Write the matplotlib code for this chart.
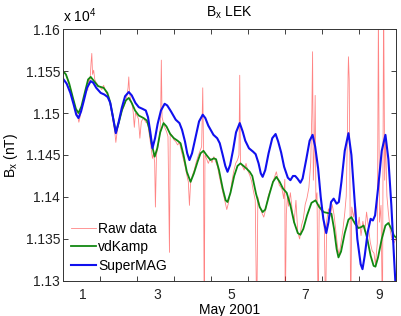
import matplotlib
matplotlib.use("Agg")
import matplotlib.pyplot as plt
from matplotlib.ticker import FixedLocator, FuncFormatter

plt.rcParams['font.family'] = ['Liberation Sans', 'DejaVu Sans']
plt.rcParams['mathtext.fontset'] = 'custom'
plt.rcParams['mathtext.rm'] = 'Liberation Sans'
plt.rcParams['mathtext.it'] = 'Liberation Sans:italic'

# x in days of May 2001 (1.0 = May 1 00:00), y in nT
raw_days = [1.00, 1.05, 1.10, 1.15, 1.20, 1.25, 1.30, 1.35, 1.40, 1.43, 1.47, 1.52, 1.56, 1.60, 1.64, 1.67,
            1.70, 1.73, 1.76, 1.78, 1.80, 1.83, 1.86, 1.90, 1.95, 2.00, 2.05, 2.10, 2.15, 2.20, 2.25, 2.30,
            2.35, 2.40, 2.43, 2.46, 2.50, 2.55, 2.60, 2.65, 2.70, 2.73, 2.76, 2.78, 2.80, 2.83, 2.87, 2.90,
            2.93, 2.96, 3.00, 3.04, 3.08, 3.12, 3.18, 3.24, 3.29, 3.33, 3.38, 3.42, 3.45, 3.48, 3.50, 3.53,
            3.58, 3.62, 3.64, 3.66, 3.68, 3.72, 3.76, 3.80, 3.84, 3.88, 3.90, 3.95, 4.00, 4.05, 4.10, 4.15,
            4.20, 4.25, 4.30, 4.35, 4.39, 4.42, 4.45, 4.50, 4.55, 4.60, 4.65, 4.70, 4.75, 4.78, 4.80, 4.82,
            4.84, 4.88, 4.93, 4.98, 5.03, 5.08, 5.13, 5.18, 5.23, 5.28, 5.33, 5.38, 5.43, 5.47, 5.52, 5.57,
            5.62, 5.67, 5.72, 5.76, 5.78, 5.80, 5.85, 5.90, 5.95, 6.00, 6.05, 6.10, 6.15, 6.20, 6.24, 6.27,
            6.32, 6.38, 6.43, 6.48, 6.55, 6.62, 6.70, 6.77, 6.85, 6.92, 6.97, 7.00, 7.01, 7.04, 7.07, 7.10,
            7.15, 7.20, 7.25, 7.30, 7.35, 7.40, 7.45, 7.50, 7.55, 7.60, 7.65, 7.70, 7.73, 7.75, 7.77, 7.80,
            7.82, 7.84, 7.87, 7.90, 7.93, 7.98, 8.03, 8.07, 8.10, 8.13, 8.18, 8.23, 8.28, 8.33, 8.38, 8.43,
            8.47, 8.52, 8.57, 8.62, 8.66, 8.69, 8.71, 8.72, 8.74, 8.76, 8.78, 8.81, 8.86, 8.91, 8.96, 9.01,
            9.06, 9.11, 9.16, 9.21, 9.26, 9.31, 9.36, 9.41, 9.45, 9.50, 9.53, 9.56, 9.60, 9.64, 9.67, 9.70,
            9.72, 9.76, 9.80, 9.85, 9.90, 9.95, 10.00]
raw_vals = [11551, 11548, 11544, 11536, 11530, 11521, 11513, 11504, 11496, 11489, 11497, 11509, 11516, 11523, 11531, 11527,
            11541, 11537, 11560, 11571, 11546, 11551, 11540, 11536, 11533, 11531, 11528, 11533, 11526, 11522, 11517, 11505,
            11491, 11478, 11465, 11476, 11486, 11496, 11503, 11508, 11514, 11521, 11530, 11543, 11524, 11516, 11510, 11501,
            11483, 11500, 11497, 11493, 11470, 11490, 11494, 11489, 11488, 11476, 11460, 11446, 11452, 11441, 11388, 11451,
            11462, 11476, 11492, 11563, 11495, 11488, 11482, 11478, 11472, 11334, 11476, 11473, 11468, 11466, 11462, 11465,
            11455, 11446, 11437, 11426, 11418, 11390, 11416, 11426, 11432, 11441, 11448, 11454, 11460, 11530, 11458, 11250,
            11450, 11446, 11440, 11446, 11441, 11448, 11442, 11436, 11424, 11414, 11404, 11395, 11385, 11392, 11404, 11419,
            11431, 11440, 11444, 11450, 11545, 11440, 11437, 11432, 11440, 11431, 11426, 11419, 11407, 11396, 11250, 11400,
            11389, 11381, 11376, 11385, 11401, 11410, 11421, 11430, 11414, 11410, 11398, 11421, 11250, 11380, 11401, 11389,
            11405, 11384, 11369, 11396, 11358, 11350, 11366, 11374, 11391, 11399, 11411, 11441, 11500, 11573, 11420, 11462,
            11521, 11396, 11405, 11250, 11391, 11384, 11380, 11360, 11250, 11371, 11386, 11377, 11391, 11379, 11359, 11339,
            11331, 11346, 11361, 11381, 11401, 11470, 11545, 11567, 11540, 11420, 11250, 11388, 11376, 11392, 11360, 11376,
            11354, 11371, 11359, 11382, 11364, 11346, 11336, 11333, 11320, 11345, 11620, 11370, 11390, 11250, 11640, 11420,
            11474, 11401, 11381, 11360, 11349, 11345, 11350]

vdk_days = [1.00, 1.08, 1.17, 1.27, 1.35, 1.42, 1.50, 1.60, 1.68, 1.75, 1.84, 1.95, 2.10, 2.20, 2.27, 2.34,
            2.43, 2.50, 2.60, 2.70, 2.78, 2.86, 2.95, 3.05, 3.18, 3.27, 3.33, 3.40, 3.48, 3.55, 3.63, 3.72,
            3.80, 3.90, 4.00, 4.10, 4.18, 4.26, 4.35, 4.45, 4.54, 4.64, 4.72, 4.80, 4.88, 4.99, 5.08, 5.14,
            5.22, 5.32, 5.40, 5.45, 5.53, 5.63, 5.72, 5.80, 5.88, 5.96, 6.05, 6.12, 6.22, 6.32, 6.40, 6.47,
            6.58, 6.68, 6.77, 6.86, 6.95, 7.05, 7.15, 7.25, 7.35, 7.42, 7.50, 7.60, 7.72, 7.83, 7.93, 8.05,
            8.15, 8.26, 8.33, 8.40, 8.45, 8.52, 8.62, 8.72, 8.80, 8.90, 8.99, 9.06, 9.13, 9.22, 9.32, 9.40,
            9.45, 9.52, 9.62, 9.72, 9.80, 9.88, 9.95, 10.00]
vdk_vals = [11550, 11546, 11535, 11518, 11505, 11500, 11508, 11526, 11540, 11543, 11538, 11532, 11530, 11524, 11514, 11498,
            11477, 11487, 11504, 11515, 11518, 11512, 11503, 11497, 11494, 11491, 11482, 11463, 11448, 11458, 11477, 11488,
            11484, 11475, 11470, 11467, 11464, 11450, 11430, 11418, 11428, 11442, 11452, 11455, 11450, 11444, 11446, 11445,
            11432, 11410, 11396, 11394, 11405, 11425, 11437, 11440, 11437, 11434, 11430, 11425, 11404, 11388, 11382, 11385,
            11403, 11418, 11424, 11418, 11410, 11405, 11390, 11370, 11357, 11355, 11362, 11378, 11393, 11396, 11388, 11382,
            11381, 11380, 11362, 11338, 11328, 11335, 11357, 11373, 11376, 11368, 11363, 11364, 11366, 11352, 11330, 11318,
            11317, 11328, 11350, 11366, 11369, 11362, 11354, 11352]

smag_days = [1.00, 1.10, 1.20, 1.29, 1.36, 1.42, 1.49, 1.56, 1.65, 1.75, 1.82, 1.90, 2.02, 2.12, 2.21, 2.28,
             2.34, 2.43, 2.51, 2.59, 2.68, 2.78, 2.86, 2.96, 3.05, 3.15, 3.24, 3.30, 3.36, 3.42, 3.49, 3.56,
             3.65, 3.75, 3.82, 3.92, 4.05, 4.15, 4.22, 4.30, 4.36, 4.42, 4.49, 4.58, 4.68, 4.78, 4.85, 4.93,
             5.07, 5.17, 5.24, 5.32, 5.39, 5.45, 5.52, 5.60, 5.68, 5.78, 5.86, 5.93, 6.03, 6.14, 6.21, 6.29,
             6.35, 6.40, 6.47, 6.56, 6.66, 6.75, 6.82, 6.90, 6.98, 7.08, 7.15, 7.22, 7.28, 7.34, 7.42, 7.48,
             7.58, 7.67, 7.75, 7.82, 7.90, 7.97, 8.04, 8.12, 8.18, 8.25, 8.32, 8.40, 8.46, 8.53, 8.62, 8.72,
             8.80, 8.88, 8.96, 9.05, 9.10, 9.16, 9.24, 9.32, 9.38, 9.44, 9.52, 9.62, 9.72, 9.80, 9.88, 9.95,
             10.00]
smag_vals = [11541, 11535, 11524, 11510, 11498, 11494, 11502, 11514, 11530, 11538, 11536, 11530, 11524, 11522, 11519, 11512,
             11498, 11476, 11490, 11506, 11520, 11525, 11521, 11512, 11507, 11505, 11503, 11495, 11478, 11458, 11470, 11487,
             11503, 11511, 11509, 11502, 11492, 11488, 11480, 11466, 11452, 11444, 11452, 11470, 11490, 11498, 11494, 11485,
             11474, 11470, 11464, 11450, 11437, 11430, 11438, 11456, 11477, 11488, 11478, 11467, 11458, 11454, 11451, 11440,
             11428, 11424, 11432, 11452, 11470, 11475, 11466, 11453, 11436, 11423, 11420, 11425, 11425, 11422, 11417, 11422,
             11445, 11467, 11474, 11460, 11434, 11400, 11374, 11357, 11370, 11394, 11398, 11392, 11394, 11418, 11455, 11476,
             11450, 11400, 11350, 11320, 11314, 11330, 11358, 11374, 11372, 11378, 11410, 11455, 11474, 11445, 11390, 11330,
             11290]

y_ticks = [11300, 11350, 11400, 11450, 11500, 11550, 11600]
day_labels = ['1', '3', '5', '7', '9']
day_label_pos = [1.55, 3.55, 5.55, 7.55, 9.55]
day_edges = [2, 3, 4, 5, 6, 7, 8, 9]

fig = plt.figure(figsize=(4.01, 3.16), dpi=100)
ax = fig.add_axes([0.157, 0.111, 0.830, 0.797])

ax.plot(raw_days, raw_vals, color='#ff2020', lw=0.6, alpha=0.55, label='Raw data')
ax.plot(vdk_days, vdk_vals, color='#118811', lw=1.3, label='vdKamp')
ax.plot(smag_days, smag_vals, color='#1010ee', lw=1.5, label='SuperMAG')

ax.set_xlim(1, 10)
ax.set_ylim(11300, 11600)

ax.yaxis.set_major_locator(FixedLocator(y_ticks))
ax.yaxis.set_major_formatter(FuncFormatter(lambda v, p: f'{v / 1e4:g}'))
ax.xaxis.set_major_locator(FixedLocator(day_label_pos))
ax.set_xticklabels(day_labels)
ax.xaxis.set_minor_locator(FixedLocator(day_edges))

ax.tick_params(axis='both', which='both', direction='in', top=True, right=True,
               labelsize=10, colors='#222222', width=0.6)
ax.tick_params(axis='x', which='major', length=0, pad=5)
ax.tick_params(axis='x', which='minor', length=3.5)
ax.tick_params(axis='y', which='major', length=3.5, pad=2)
for sp in ax.spines.values():
    sp.set_linewidth(0.7)
    sp.set_color('#333333')

ax.set_title(r'B$_{\mathrm{x}}$ LEK', fontsize=10, pad=9)
ax.set_ylabel(r'B$_{\mathrm{x}}$ (nT)', fontsize=10, labelpad=4)
ax.set_xlabel('May 2001', fontsize=10, labelpad=0.5)
ax.text(0.0, 1.015, r'x 10$^{4}$', transform=ax.transAxes, ha='left', va='bottom', fontsize=10)

leg = ax.legend(loc='lower left', frameon=False, fontsize=10, handlelength=1.8,
                handletextpad=0.15, labelspacing=0.32, borderaxespad=0.2,
                bbox_to_anchor=(0.0, 0.0))

fig.savefig('out.png', dpi=100)
